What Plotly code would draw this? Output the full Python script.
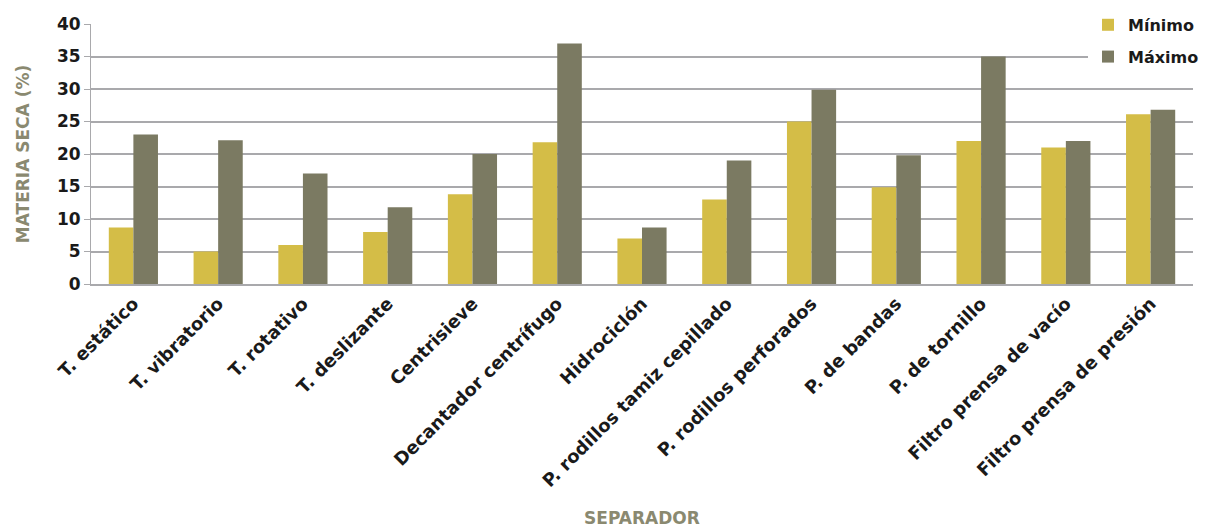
import plotly.graph_objects as go

categories = ["T. estático", "T. vibratorio", "T. rotativo", "T. deslizante", "Centrisieve",
              "Decantador centrífugo", "Hidrociclón", "P. rodillos tamiz cepillado",
              "P. rodillos perforados", "P. de bandas", "P. de tornillo",
              "Filtro prensa de vacío", "Filtro prensa de presión"]
minimo = [8.7, 5, 6, 8, 13.8, 21.8, 7, 13, 25, 14.9, 22, 21, 26.1]
maximo = [23, 22.1, 17, 11.8, 20, 37, 8.7, 19, 29.9, 19.8, 35, 22, 26.8]

FONT = "DejaVu Sans, Verdana, sans-serif"
TITLE_C = "#8A8970"

fig = go.Figure()
fig.add_trace(go.Bar(name="<b>Mínimo</b>", x=categories, y=minimo, marker_color="#D4BD47",
                     marker_line=dict(width=0), legendgroup="a"))
fig.add_trace(go.Bar(name="<b>Máximo</b>", x=categories, y=maximo, marker_color="#7B7A62",
                     marker_line=dict(width=0), legendgroup="b"))

fig.update_layout(
    width=1206, height=529,
    margin=dict(l=91, r=13, t=24, b=245, autoexpand=False),
    paper_bgcolor="white", plot_bgcolor="white",
    barmode="group", bargap=0.42, bargroupgap=0,
    font=dict(family=FONT, color="#1a1a1a"),
    legend=dict(x=1.010, xanchor="right", y=1.062, yanchor="top",
                bgcolor="white", font=dict(size=16, color="#1a1a1a", family=FONT),
                traceorder="grouped", tracegroupgap=8, itemwidth=30),
    xaxis=dict(tickangle=-45, tickfont=dict(size=18, color="#1a1a1a", family=FONT),
               showline=True, linecolor="#A9A9AC", linewidth=2, automargin=False,
               title=dict(text="<b>SEPARADOR</b>", font=dict(size=17, color=TITLE_C, family=FONT), standoff=22)),
    yaxis=dict(range=[0, 40], dtick=5, showgrid=True, gridcolor="#A9A9AC", gridwidth=2,
               ticks="outside", ticklen=6, tickcolor="#A9A9AC", tickwidth=1,
               tickfont=dict(size=17, color="#1a1a1a", family=FONT), automargin=False,
               showline=True, linecolor="#A9A9AC", linewidth=1, zeroline=False,
               title=dict(text="<b>MATERIA SECA (%)</b>", font=dict(size=17, color=TITLE_C, family=FONT), standoff=22)),
)
fig.update_xaxes(tickprefix="<b>", ticksuffix="</b>")
fig.update_yaxes(tickprefix="<b>", ticksuffix="</b>")

fig.write_html("out.html")
